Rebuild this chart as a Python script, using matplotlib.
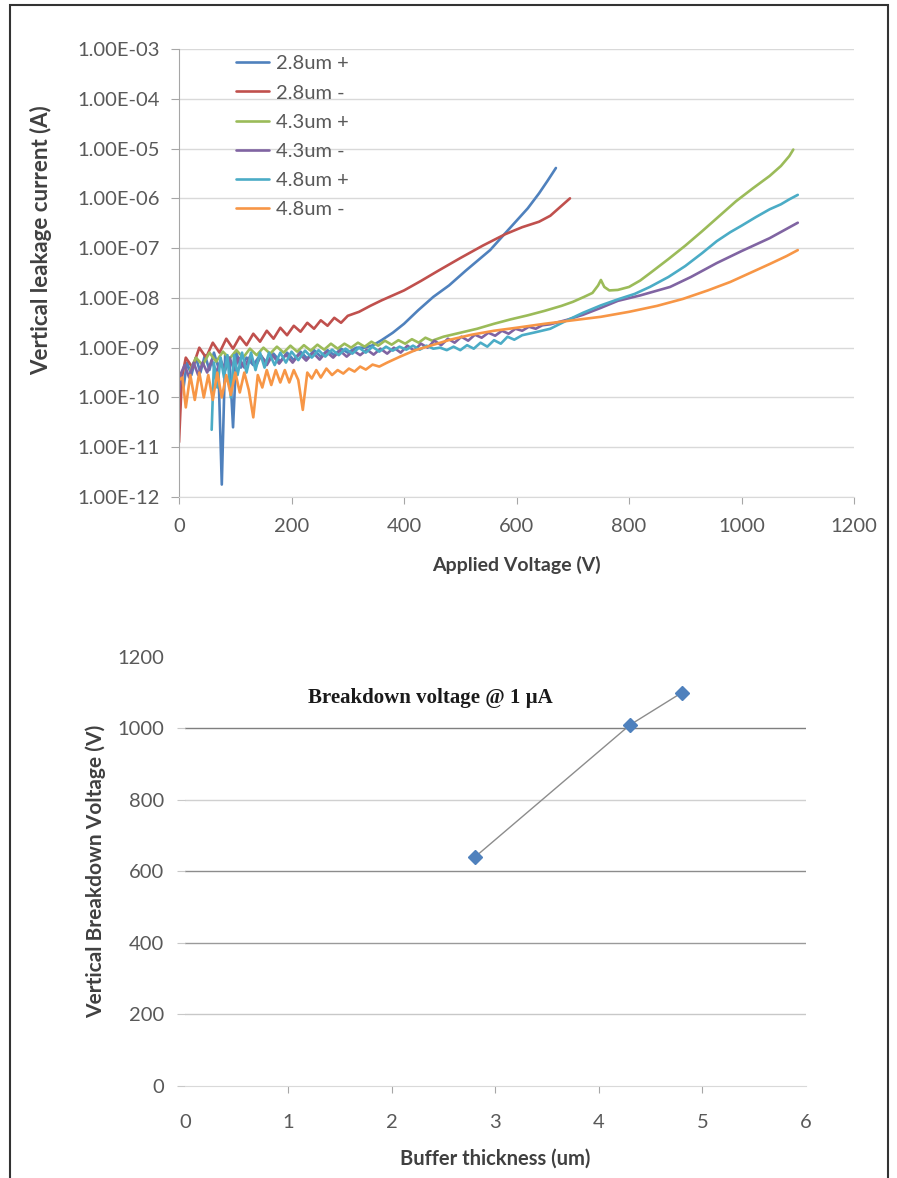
import matplotlib
matplotlib.use("Agg")
import matplotlib.pyplot as plt
import numpy as np
from matplotlib.patches import Rectangle
from matplotlib.ticker import FixedLocator, FuncFormatter

plt.rcParams["font.family"] = ["Lato", "DejaVu Sans"]

# --------------------------------------------------------------------------- #
# data: leakage current curves (log10 of current in A vs applied voltage in V)
# --------------------------------------------------------------------------- #
red_v = [0, 5, 12, 24, 36, 48, 60, 72, 84, 96, 108, 120, 132, 144, 156, 168, 180,
         192, 204, 216, 228, 240, 252, 264, 276, 288, 300, 320, 340, 360, 380, 400,
         430, 460, 500, 540, 580, 610, 640, 660, 680, 695]
red_log = [-10.9, -9.6, -9.2, -9.4, -9.0, -9.2, -8.9, -9.1, -8.82, -9.02, -8.78, -8.95,
           -8.72, -8.88, -8.66, -8.82, -8.6, -8.75, -8.56, -8.68, -8.5, -8.62, -8.45,
           -8.56, -8.4, -8.5, -8.36, -8.28, -8.16, -8.05, -7.95, -7.85, -7.66, -7.46,
           -7.2, -6.95, -6.72, -6.58, -6.47, -6.35, -6.15, -6.0]

blue_v = [8, 14, 22, 30, 38, 46, 54, 62, 70, 76, 82, 90, 96, 102, 110, 120, 132, 144,
          156, 168, 180, 192, 204, 216, 228, 240, 252, 264, 276, 288, 300, 315, 330,
          345, 360, 380, 400, 425, 452, 480, 510, 553, 580, 600, 620, 640, 655, 670]
blue_log = [-9.8, -9.3, -9.55, -9.2, -9.5, -9.15, -9.45, -9.1, -9.4, -11.75, -9.15,
            -9.3, -10.6, -9.1, -9.4, -9.2, -9.35, -9.15, -9.3, -9.12, -9.28, -9.1,
            -9.25, -9.08, -9.22, -9.05, -9.18, -9.05, -9.15, -9.02, -9.1, -9.0, -9.0,
            -8.95, -8.85, -8.7, -8.52, -8.25, -7.98, -7.75, -7.45, -7.04, -6.7, -6.45,
            -6.2, -5.9, -5.65, -5.39]

green_v = [20, 30, 42, 54, 66, 78, 90, 102, 114, 126, 138, 150, 162, 174, 186, 198,
           210, 222, 234, 246, 258, 270, 282, 294, 306, 318, 330, 342, 354, 366, 378,
           390, 402, 414, 426, 438, 450, 470, 500, 530, 560, 590, 620, 650, 680, 700,
           720, 735, 745, 750, 756, 765, 780, 800, 820, 840, 870, 900, 930, 960, 990,
           1020, 1050, 1070, 1085, 1092]
green_log = [-9.45, -9.2, -9.35, -9.1, -9.28, -9.08, -9.22, -9.05, -9.2, -9.02, -9.15,
             -9.0, -9.12, -8.98, -9.1, -8.96, -9.08, -8.95, -9.06, -8.94, -9.04, -8.92,
             -9.02, -8.92, -9.0, -8.9, -8.98, -8.88, -8.96, -8.86, -8.94, -8.85, -8.92,
             -8.83, -8.9, -8.8, -8.86, -8.78, -8.7, -8.62, -8.52, -8.43, -8.35, -8.26,
             -8.16, -8.08, -7.98, -7.9, -7.75, -7.64, -7.78, -7.85, -7.84, -7.78, -7.65,
             -7.48, -7.22, -6.95, -6.66, -6.36, -6.06, -5.8, -5.55, -5.35, -5.15, -5.02]

purple_v = [0, 4, 10, 18, 26, 34, 42, 50, 58, 66, 74, 82, 90, 98, 106, 116, 126, 136,
            146, 156, 166, 178, 190, 202, 214, 226, 238, 250, 262, 274, 286, 298, 310,
            322, 334, 346, 358, 370, 382, 394, 406, 418, 430, 442, 454, 466, 478, 490,
            502, 514, 526, 538, 550, 562, 574, 586, 598, 610, 622, 634, 646, 660, 690,
            718, 750, 780, 820, 873, 910, 956, 1000, 1050, 1100]
purple_log = [-9.9, -9.5, -9.35, -9.6, -9.3, -9.55, -9.3, -9.5, -9.25, -9.5, -9.25,
              -9.45, -9.2, -9.45, -9.2, -9.4, -9.18, -9.38, -9.16, -9.35, -9.15, -9.32,
              -9.14, -9.3, -9.12, -9.26, -9.1, -9.24, -9.08, -9.2, -9.06, -9.18, -9.06,
              -9.15, -9.04, -9.14, -9.02, -9.12, -9.0, -9.1, -8.96, -9.06, -8.92, -9.0,
              -8.86, -8.95, -8.82, -8.9, -8.78, -8.86, -8.74, -8.8, -8.7, -8.76, -8.66,
              -8.72, -8.62, -8.66, -8.58, -8.62, -8.55, -8.53, -8.44, -8.34, -8.2,
              -8.06, -7.95, -7.78, -7.58, -7.3, -7.06, -6.8, -6.49]

cyan_v = [58, 62, 68, 74, 80, 86, 92, 98, 104, 112, 120, 128, 136, 144, 152, 160, 170,
          180, 190, 200, 212, 224, 236, 248, 260, 272, 284, 296, 308, 320, 332, 344,
          356, 368, 380, 392, 404, 416, 428, 440, 452, 464, 476, 488, 500, 512, 524,
          536, 548, 560, 572, 584, 596, 610, 630, 660, 690, 718, 750, 780, 810, 837,
          870, 900, 930, 956, 980, 1000, 1025, 1050, 1070, 1085, 1100]
cyan_log = [-10.65, -9.3, -9.8, -9.2, -9.6, -9.15, -10.0, -9.15, -9.55, -9.1, -9.5,
            -9.1, -9.45, -9.1, -9.4, -9.1, -9.35, -9.1, -9.3, -9.08, -9.25, -9.06, -9.2,
            -9.05, -9.18, -9.04, -9.15, -9.02, -9.12, -9.0, -9.1, -8.98, -9.08, -8.98,
            -9.06, -8.98, -9.04, -8.96, -9.04, -8.96, -9.02, -9.0, -9.05, -8.98, -9.05,
            -8.95, -9.02, -8.9, -8.98, -8.85, -8.92, -8.78, -8.84, -8.75, -8.7, -8.62,
            -8.45, -8.3, -8.15, -8.03, -7.92, -7.78, -7.58, -7.36, -7.1, -6.86, -6.68,
            -6.55, -6.38, -6.22, -6.12, -6.02, -5.93]

orange_v = [0, 6, 12, 20, 28, 36, 44, 52, 60, 68, 76, 84, 92, 100, 108, 116, 124, 132,
            140, 148, 156, 164, 172, 180, 188, 196, 204, 212, 220, 228, 236, 244, 252,
            262, 272, 282, 292, 302, 312, 322, 332, 344, 356, 370, 393, 420, 450, 482,
            520, 560, 600, 650, 700, 750, 800, 850, 896, 940, 980, 1015, 1050, 1080,
            1100]
orange_log = [-9.65, -9.6, -10.2, -9.55, -10.05, -9.5, -10.0, -9.55, -10.05, -9.5,
              -10.0, -9.55, -9.95, -9.5, -9.9, -9.5, -9.85, -10.4, -9.55, -9.8, -9.45,
              -9.75, -9.45, -9.7, -9.45, -9.7, -9.45, -9.65, -10.25, -9.5, -9.62, -9.45,
              -9.6, -9.42, -9.55, -9.45, -9.52, -9.42, -9.48, -9.38, -9.44, -9.34,
              -9.38, -9.3, -9.18, -9.05, -8.95, -8.84, -8.74, -8.66, -8.6, -8.52, -8.45,
              -8.38, -8.28, -8.16, -8.02, -7.85, -7.68, -7.5, -7.32, -7.16, -7.04]

series_labels = ["2.8um +", "2.8um -", "4.3um +", "4.3um -", "4.8um +", "4.8um -"]
series_v = [blue_v, red_v, green_v, purple_v, cyan_v, orange_v]
series_log = [blue_log, red_log, green_log, purple_log, cyan_log, orange_log]

# --------------------------------------------------------------------------- #
# data: breakdown voltage vs buffer thickness
# --------------------------------------------------------------------------- #
thickness = [2.8, 4.3, 4.8]
breakdown = [640, 1010, 1100]

COLORS = ["#4F81BD", "#C0504D", "#9BBB59", "#8064A2", "#4BACC6", "#F79646"]
TICK_COLOR = "#595959"
LABEL_COLOR = "#404040"
GRID_COLOR = "#D9D9D9"

fig = plt.figure(figsize=(8.97, 11.78), dpi=100, facecolor="white")

# outer frame (bottom edge runs off the page)
fig.patches.append(Rectangle((10 / 897, -0.02), 878 / 897, 1.02 - 5 / 1178,
                             transform=fig.transFigure, fill=False,
                             edgecolor="#333333", lw=1.5))

# --- top: leakage current ---
ax = fig.add_axes([0.1996, 0.5781, 0.7525, 0.3803])
for v, lg, c, lab in zip(series_v, series_log, COLORS, series_labels):
    ax.plot(v, 10.0 ** np.array(lg), color=c, lw=1.9, label=lab,
            solid_joinstyle="round", solid_capstyle="round")
ax.set_yscale("log")
ax.set_ylim(1e-12, 1e-3)
ax.set_xlim(0, 1200)
ax.yaxis.set_major_locator(FixedLocator([10.0 ** k for k in range(-12, -2)]))
ax.yaxis.set_minor_locator(FixedLocator([]))
ax.yaxis.set_major_formatter(FuncFormatter(lambda y, _: f"1.00E-{int(round(-np.log10(y))):02d}"))
ax.set_xticks(range(0, 1201, 200))
ax.grid(axis="y", color=GRID_COLOR, lw=1)
ax.set_axisbelow(True)
for s in ["top", "right"]:
    ax.spines[s].set_visible(False)
ax.spines["left"].set_color("#A6A6A6")
ax.spines["bottom"].set_color(GRID_COLOR)
ax.tick_params(axis="y", colors="#A6A6A6", labelcolor=TICK_COLOR, labelsize=14.5,
               length=6, pad=8)
ax.tick_params(axis="x", colors="#A6A6A6", labelcolor=TICK_COLOR, labelsize=14.5,
               length=5, pad=10)
ax.set_xlabel("Applied Voltage (V)", fontsize=14, fontweight="bold",
              color=LABEL_COLOR, labelpad=15)
ax.set_ylabel("Vertical leakage current (A)", fontsize=16, fontweight="bold",
              color=LABEL_COLOR)
ax.yaxis.set_label_coords(-0.188, 0.574)
leg = ax.legend(loc="upper left", bbox_to_anchor=(0.073, 1.004), frameon=False,
                fontsize=14.5, handlelength=1.6, handletextpad=0.35,
                labelspacing=0.6, borderaxespad=0)
for t in leg.get_texts():
    t.set_color(TICK_COLOR)

# --- bottom: breakdown voltage ---
bx = fig.add_axes([0.2062, 0.0781, 0.6923, 0.3642])
grid_vals = [200, 400, 600, 800, 1000]
grid_cols = ["#C8C8C8", "#9A9A9A", "#8C8C8C", "#D0D0D0", "#7F7F7F"]
for gv, gc in zip(grid_vals, grid_cols):
    bx.axhline(gv, color=gc, lw=1, zorder=0)
bx.plot(thickness, breakdown, color="#8C8C8C", lw=1, zorder=2)
bx.plot(thickness, breakdown, ls="none", marker="D", ms=7.5, color="#4F81BD", zorder=3)
bx.set_xlim(0, 6)
bx.set_ylim(0, 1200)
bx.set_xticks(range(0, 7))
bx.set_yticks(range(0, 1201, 200))
for s in ["top", "right", "left"]:
    bx.spines[s].set_visible(False)
bx.spines["bottom"].set_color(GRID_COLOR)
bx.tick_params(axis="y", colors="#C8C8C8", labelcolor=TICK_COLOR, labelsize=14.5,
               length=6, pad=9)
bx.tick_params(axis="x", colors="#A6A6A6", labelcolor=TICK_COLOR, labelsize=14.5,
               length=5, pad=15)
bx.yaxis.get_major_ticks()[-1].tick1line.set_visible(False)
bx.xaxis.get_major_ticks()[0].tick1line.set_visible(False)
bx.xaxis.get_major_ticks()[-1].tick1line.set_visible(False)
bx.set_xlabel("Buffer thickness (um)", fontsize=14.5, fontweight="bold",
              color=LABEL_COLOR, labelpad=13)
bx.set_ylabel("Vertical Breakdown Voltage (V)", fontsize=15, fontweight="bold",
              color=LABEL_COLOR, labelpad=8)
bx.text(0.395, 0.905, "Breakdown voltage @ 1 \u00b5A", transform=bx.transAxes,
        ha="center", va="center", fontsize=15, fontweight="bold",
        family=["Liberation Serif", "DejaVu Serif"], color="#1A1A1A")

fig.savefig("out.png", dpi=100, facecolor="white")
